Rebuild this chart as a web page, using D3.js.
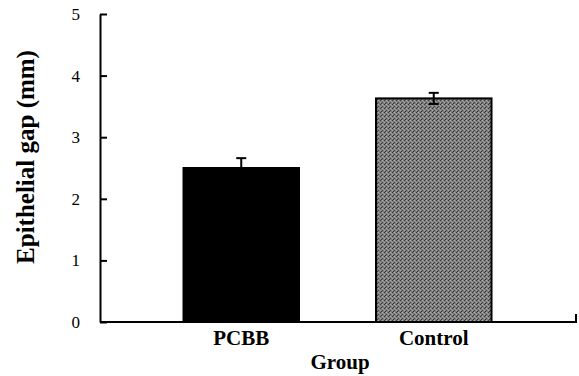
<!DOCTYPE html>
<html>
<head>
<meta charset="utf-8">
<script src="https://cdn.jsdelivr.net/npm/d3@7"></script>
<style>
  body { margin: 0; background: #fff; }
  svg { display: block; }
  text { font-family: "Liberation Serif", "Times New Roman", serif; fill: #000; }
</style>
</head>
<body>
<svg id="chart" width="579" height="376"></svg>
<script>
// data
const groups = ["PCBB", "Control"];
const means = [2.5, 3.63];
const errors = [0.16, 0.09];
const yTicks = [0, 1, 2, 3, 4, 5];

const svg = d3.select("#chart");

// plot area
const plotLeft = 100, plotRight = 576, plotTop = 14, plotBottom = 322;

const x = d3.scaleBand()
  .domain(groups)
  .range([145, 530])
  .paddingInner(0.4)
  .paddingOuter(0.2);

const y = d3.scaleLinear()
  .domain([0, 5])
  .range([plotBottom, plotTop]);

// grey dithered fill for the control bar
const defs = svg.append("defs");
const pat = defs.append("pattern")
  .attr("id", "grey")
  .attr("patternUnits", "userSpaceOnUse")
  .attr("width", 4)
  .attr("height", 4);
pat.append("rect").attr("width", 4).attr("height", 4).attr("fill", "#7d7d7d");
pat.append("rect").attr("x", 0).attr("y", 0).attr("width", 1).attr("height", 1).attr("fill", "#3c3c3c");
pat.append("rect").attr("x", 2).attr("y", 2).attr("width", 1).attr("height", 1).attr("fill", "#4a4a4a");
pat.append("rect").attr("x", 2).attr("y", 0).attr("width", 1).attr("height", 1).attr("fill", "#b0b0b0");
pat.append("rect").attr("x", 0).attr("y", 2).attr("width", 1).attr("height", 1).attr("fill", "#a8a8a8");
pat.append("rect").attr("x", 1).attr("y", 3).attr("width", 1).attr("height", 1).attr("fill", "#333");
pat.append("rect").attr("x", 3).attr("y", 1).attr("width", 1).attr("height", 1).attr("fill", "#9a9a9a");

const fills = ["#000", "url(#grey)"];

// bars
svg.append("g").selectAll("rect")
  .data(groups)
  .enter().append("rect")
  .attr("x", d => x(d))
  .attr("y", (d, i) => y(means[i]))
  .attr("width", x.bandwidth())
  .attr("height", (d, i) => y(0) - y(means[i]))
  .attr("fill", (d, i) => fills[i])
  .attr("stroke", "#000")
  .attr("stroke-width", 2);

// error bars
const err = svg.append("g").attr("stroke", "#000").attr("stroke-width", 2);
groups.forEach(function(d, i) {
  const cx = x(d) + x.bandwidth() / 2;
  err.append("line")
    .attr("x1", cx).attr("x2", cx)
    .attr("y1", y(means[i] - errors[i])).attr("y2", y(means[i] + errors[i]));
  [means[i] - errors[i], means[i] + errors[i]].forEach(function(v) {
    err.append("line")
      .attr("x1", cx - 5).attr("x2", cx + 5)
      .attr("y1", y(v)).attr("y2", y(v));
  });
});

// y axis, ticks pointing inward
const yAxis = svg.append("g")
  .attr("transform", "translate(" + plotLeft + ",0)")
  .call(d3.axisLeft(y)
    .tickValues(yTicks)
    .tickSizeInner(-7)
    .tickSizeOuter(0)
    .tickPadding(20)
    .tickFormat(d3.format("d")));
yAxis.select(".domain").attr("stroke-width", 2);
yAxis.selectAll(".tick line").attr("stroke-width", 2);
yAxis.selectAll(".tick text")
  .style("font-family", "'Liberation Serif', serif")
  .style("font-size", "17px")
  .attr("fill", "#000");

// x axis line + end tick
svg.append("path")
  .attr("d", "M" + plotLeft + "," + plotBottom + "H" + plotRight + "V" + (plotBottom - 8))
  .attr("fill", "none")
  .attr("stroke", "#000")
  .attr("stroke-width", 2);

// category labels
svg.append("g").selectAll("text")
  .data(groups)
  .enter().append("text")
  .attr("x", d => x(d) + x.bandwidth() / 2)
  .attr("y", 345)
  .attr("text-anchor", "middle")
  .style("font-size", "21px")
  .style("font-weight", "bold")
  .text(d => d);

// axis titles
svg.append("text")
  .attr("x", 340)
  .attr("y", 369)
  .attr("text-anchor", "middle")
  .style("font-size", "21px")
  .style("font-weight", "bold")
  .text("Group");

svg.append("text")
  .attr("transform", "translate(34,157) rotate(-90)")
  .attr("text-anchor", "middle")
  .style("font-size", "25px")
  .style("font-weight", "bold")
  .text("Epithelial gap (mm)");
</script>
</body>
</html>
